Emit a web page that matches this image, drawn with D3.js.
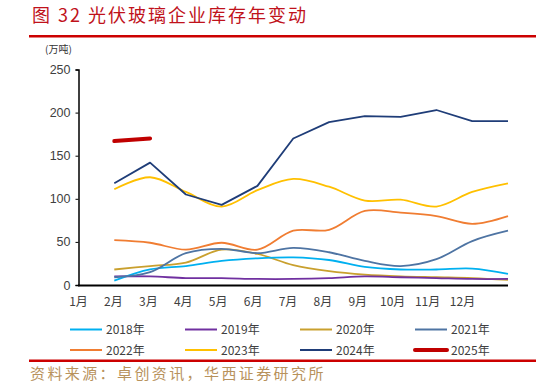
<!DOCTYPE html>
<html>
<head>
<meta charset="utf-8">
<script src="https://cdn.jsdelivr.net/npm/d3@7"></script>
<style>
body { margin: 0; background: #fff; }
svg { display: block; }
</style>
</head>
<body>
<script>
var w = 536;
var h = 387;

// 月份标签
var months = ["1月","2月","3月","4月","5月","6月","7月","8月","9月","10月","11月","12月"];
var yTicks = [0, 50, 100, 150, 200, 250];

// 各年库存（万吨）
var y2018 = [5, 18, 22, 28, 31, 32, 29, 21, 18, 18, 19, 13];
var y2019 = [10, 10, 8, 8, 7, 7, 8, 10, 9, 8, 7, 7];
var y2020 = [18, 22, 26, 41, 36, 23, 16, 12, 10, 9, 8, 6];
var y2021 = [9, 15, 37, 42, 37, 43, 38, 28, 22, 30, 51, 63];
var y2022 = [52, 49, 41, 49, 41, 63, 64, 86, 84, 80, 71, 80];
var y2023 = [111, 125, 108, 91, 110, 123, 114, 98, 99, 91, 108, 118];
var y2024 = [118, 142, 105, 93, 115, 170, 189, 196, 195, 203, 190, 190];
var y2025 = [167, 170];

var seriesNames = ["2018年","2019年","2020年","2021年","2022年","2023年","2024年","2025年"];
var seriesData = [y2018, y2019, y2020, y2021, y2022, y2023, y2024, y2025];

var colors = ["#00b0f0","#7030a0","#c9a02e","#4e74a3","#f07d32","#ffc000","#1f3d78","#c00000"];
var widths = [1.8, 1.8, 1.8, 1.8, 1.8, 1.8, 1.8, 4];
var smooth = [true, true, true, true, true, true, false, false];

var svg = d3.select("body")
	.append("svg")
	.attr("width", w)
	.attr("height", h);

// title
svg.append("text")
	.attr("x", 32)
	.attr("y", 22)
	.attr("font-family", "Noto Sans CJK SC")
	.attr("font-size", "18px")
	.attr("letter-spacing", "2px")
	.attr("fill", "#c0121b")
	.text("图 32 光伏玻璃企业库存年变动");

svg.append("rect")
	.attr("x", 29).attr("y", 35)
	.attr("width", w - 29).attr("height", 2.5)
	.attr("fill", "#cc0000");

svg.append("text")
	.attr("x", 45)
	.attr("y", 53)
	.attr("font-family", "Noto Sans CJK SC")
	.attr("font-size", "10px")
	.attr("fill", "#333")
	.text("(万吨)");

// scales
var x = d3.scaleLinear()
	.domain([0, 12])
	.range([78.5, 508]);

var xLabel = d3.scalePoint()
	.domain(months)
	.range([78, 462]);

var y = d3.scaleLinear()
	.domain([0, 250])
	.range([285, 69.5]);

var yAxis = svg.append("g")
	.attr("transform", "translate(78.5,0)")
	.call(d3.axisLeft(y).tickValues(yTicks).tickSize(3).tickPadding(5));
yAxis.select(".domain").attr("stroke", "#000").attr("stroke-width", 1.5);
yAxis.selectAll(".tick line").attr("stroke", "#000");
yAxis.selectAll("text")
	.attr("font-family", "Liberation Sans, Arial, sans-serif")
	.attr("font-size", "12.5px")
	.attr("fill", "#404040");

var xAxis = svg.append("g")
	.attr("transform", "translate(0,285)")
	.call(d3.axisBottom(xLabel).tickSize(0).tickPadding(12));
xAxis.select(".domain").remove();
xAxis.selectAll("text")
	.attr("font-family", "Noto Sans CJK SC")
	.attr("font-size", "12px")
	.attr("fill", "#404040");

svg.append("line")
	.attr("x1", 78).attr("x2", 508)
	.attr("y1", 285.5).attr("y2", 285.5)
	.attr("stroke", "#000")
	.attr("stroke-width", 1.8);

// lines
var order = [2, 1, 0, 3, 4, 5, 6, 7];
order.forEach(function(k) {
	var line = d3.line()
		.x(function(d, i) { return x(i + 1); })
		.y(function(d) { return y(d); })
		.curve(smooth[k] ? d3.curveCatmullRom.alpha(0.5) : d3.curveLinear);
	svg.append("path")
		.datum(seriesData[k])
		.attr("d", line)
		.attr("fill", "none")
		.attr("stroke", colors[k])
		.attr("stroke-width", widths[k])
		.attr("stroke-linecap", k == 7 ? "round" : "butt")
		.attr("stroke-linejoin", "round");
});

// legend
var legend = svg.selectAll(".legend")
	.data(seriesNames)
	.enter()
	.append("g")
	.attr("class", "legend")
	.attr("transform", function(d, i) {
		return "translate(" + (70 + (i % 4) * 115) + "," + (329.5 + Math.floor(i / 4) * 20.5) + ")";
	});

legend.append("line")
	.attr("x1", 0).attr("x2", 32)
	.attr("y1", 0).attr("y2", 0)
	.attr("stroke", function(d, i) { return colors[i]; })
	.attr("stroke-width", function(d, i) { return i == 7 ? 4 : 2; })
	.attr("stroke-linecap", function(d, i) { return i == 7 ? "round" : "butt"; });

legend.append("text")
	.attr("x", 36)
	.attr("y", 4.5)
	.attr("font-family", "Noto Sans CJK SC")
	.attr("font-size", "12px")
	.attr("fill", "#404040")
	.text(function(d) { return d; });

// source
svg.append("rect")
	.attr("x", 29).attr("y", 359.5)
	.attr("width", w - 29).attr("height", 2.5)
	.attr("fill", "#cc0000");

svg.append("text")
	.attr("x", 30)
	.attr("y", 379)
	.attr("font-family", "Noto Sans CJK SC")
	.attr("font-size", "15px")
	.attr("letter-spacing", "2.4px")
	.attr("fill", "#b8925c")
	.text("资料来源：卓创资讯，华西证券研究所");
</script>
</body>
</html>
